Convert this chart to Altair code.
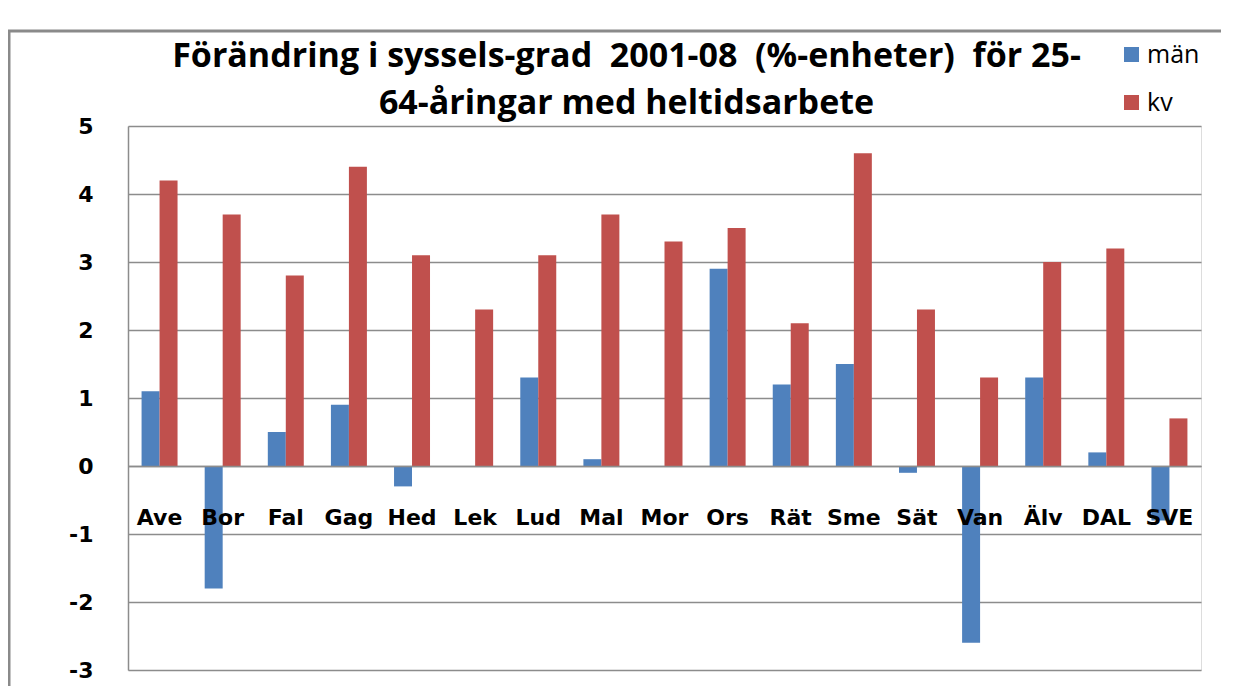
import altair as alt
import pandas as pd

categories = ["Ave", "Bor", "Fal", "Gag", "Hed", "Lek", "Lud", "Mal", "Mor",
              "Ors", "Rät", "Sme", "Sät", "Van", "Älv", "DAL", "SVE"]
man = [1.1, -1.8, 0.5, 0.9, -0.3, 0.0, 1.3, 0.1, 0.0, 2.9, 1.2, 1.5, -0.1, -2.6, 1.3, 0.2, -0.8]
kv = [4.2, 3.7, 2.8, 4.4, 3.1, 2.3, 3.1, 3.7, 3.3, 3.5, 2.1, 4.6, 2.3, 1.3, 3.0, 3.2, 0.7]
series = ["män", "kv"]
y_ticks = [-3, -2, -1, 0, 1, 2, 3, 4, 5]

rows = []
for c, m, k in zip(categories, man, kv):
    rows.append({"kommun": c, "serie": "män", "värde": m})
    rows.append({"kommun": c, "serie": "kv", "värde": k})
df = pd.DataFrame(rows)

TITLE_FONT = "Open Sans"
LABEL_FONT = "DejaVu Sans"

bars = alt.Chart(df).mark_bar().encode(
    x=alt.X("kommun:N", sort=categories,
            scale=alt.Scale(paddingInner=0.43, paddingOuter=0.215),
            axis=alt.Axis(title=None, orient="bottom", offset=-204, labelAngle=0,
                          labelFont=LABEL_FONT, labelFontSize=22, labelFontWeight="bold",
                          labelColor="black", labelPadding=41, ticks=False, zindex=1,
                          domainColor="#8c8c8c", domainWidth=1.5, labelOverlap=False)),
    xOffset=alt.XOffset("serie:N", sort=series,
                        scale=alt.Scale(paddingInner=0, paddingOuter=0)),
    y=alt.Y("värde:Q", scale=alt.Scale(domain=[-3, 5], nice=False),
            axis=alt.Axis(title=None, values=y_ticks, labelExpr="'' + datum.value",
                          labelFont=LABEL_FONT, labelFontSize=22, labelFontWeight="bold",
                          labelColor="black", labelPadding=35, ticks=False,
                          domainColor="#8c8c8c", domainWidth=1.5,
                          gridColor="#8c8c8c", gridWidth=1.5)),
    color=alt.Color("serie:N", sort=series,
                    scale=alt.Scale(domain=series, range=["#4F81BD", "#C0504D"]),
                    legend=alt.Legend(title=None, orient="none", legendX=991, legendY=-84,
                                      symbolType="square", symbolSize=225,
                                      symbolStrokeWidth=0,
                                      labelFont=TITLE_FONT, labelFontSize=25,
                                      labelColor="black", rowPadding=22, labelOffset=3)),
)

frame = alt.Chart(pd.DataFrame({"a": [0]})).mark_rect(
    fill=None, stroke="#8a8a8a", strokeWidth=3
).encode(x=alt.value(-119), x2=alt.value(1300), y=alt.value(-95), y2=alt.value(700))

NB = "\u00a0"
title_lines = [f"Förändring i syssels-grad {NB}2001-08 {NB}(%-enheter) {NB}för 25-",
               "64-åringar med heltidsarbete"]

chart = alt.layer(frame, bars).properties(
    width=1073, height=544,
    autosize=alt.AutoSizeParams(type="none"),
    padding={"left": 120, "top": 118, "right": 20, "bottom": 16},
    title=alt.TitleParams(
        text=title_lines,
        font=TITLE_FONT, fontSize=34, fontWeight="bold", color="black",
        anchor="middle", frame="group", dx=-38, offset=0, dy=118,
        baseline="alphabetic", lineHeight=47),
).configure_view(stroke=None).configure(background="white")

chart.save("out.html", embed_options={"renderer": "svg", "actions": False})
